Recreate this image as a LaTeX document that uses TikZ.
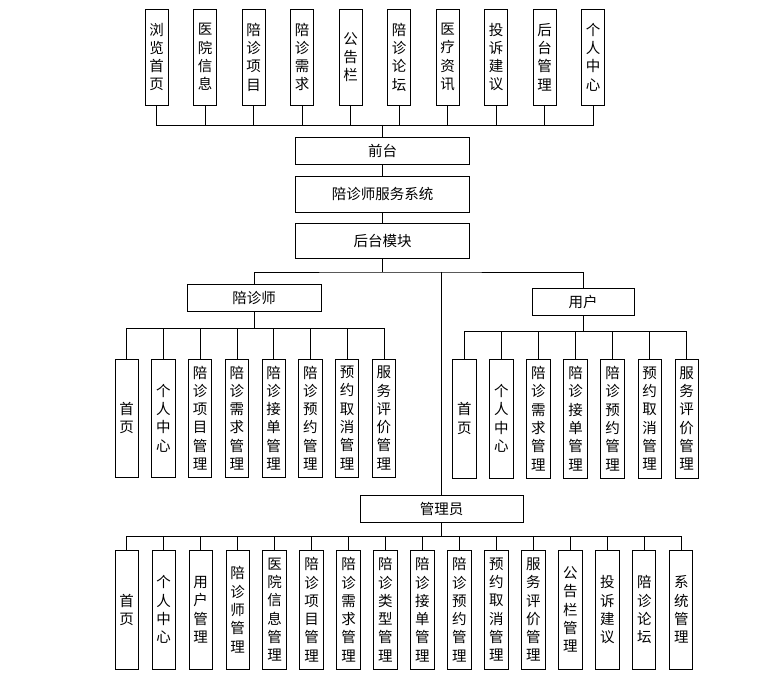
\documentclass[tikz,border=0pt]{standalone}
\usepackage{fontspec}
\setmainfont{Noto Sans CJK SC}
\usetikzlibrary{positioning,calc}
\XeTeXlinebreaklocale "zh"
\XeTeXlinebreakskip=0pt plus 1pt

\tikzset{
  hbox/.style={draw,line width=0.9pt,minimum height=27,inner sep=0pt},
  vbox/.style={draw,line width=0.9pt,minimum width=23.3,inner sep=0pt,
               text width=15,align=center},
  link/.style={line width=0.9pt}
}

\begin{document}
\begin{tikzpicture}[x=1pt,y=-1pt,font=\fontsize{14.5}{18.3}\selectfont]
\useasboundingbox (0,0) rectangle (764,676);
% front end
\node[hbox,minimum width=174] (qian) at (382.5,150.5) {前台};
\node[hbox,minimum width=174,minimum height=36] (sys) at (382.5,194) {陪诊师服务系统};
\node[hbox,minimum width=174,minimum height=35] (hou) at (382.5,241) {后台模块};
\draw[link] (qian) -- (sys);
\draw[link] (sys) -- (hou);
\coordinate (qbar) at (382.5,125);
\foreach \lbl [count=\i] in {浏览首页,医院信息,陪诊项目,陪诊需求,公告栏,
                              陪诊论坛,医疗资讯,投诉建议,后台管理,个人中心} {
  \node[vbox,minimum height=96] (q\i) at ({156.7+48.5*(\i-1)},57) {\lbl};
  \draw[link] (q\i.south) |- (qbar);
}
\draw[link] (qbar) -- (qian);

% back end
\coordinate (hbar) at (382.5,272);
\node[hbox,minimum width=134] (pzs) at (254,297.7) {陪诊师};
\node[hbox,minimum width=102] (yh) at (583.2,301.5) {用户};
\node[hbox,minimum width=163] (gly) at (441.7,508.7) {管理员};
\draw[link] (hou) -- (hbar);
\draw[link] (pzs.north) |- (hbar) -| (yh.north);
\draw[link] (hbar -| gly.north) -- (gly.north);

% escort
\coordinate (pbar) at (254,328.3);
\draw[link] (pzs) -- (pbar);
\foreach \lbl [count=\i] in {首页,个人中心,陪诊项目管理,陪诊需求管理,
                              陪诊接单管理,陪诊预约管理,预约取消管理,服务评价管理} {
  \node[vbox,minimum height=118] (p\i) at ({126.7+36.75*(\i-1)},418) {\lbl};
  \draw[link] (p\i.north) |- (pbar);
}

% user
\coordinate (ybar) at (583.2,331.7);
\draw[link] (yh) -- (ybar);
\foreach \lbl [count=\i] in {首页,个人中心,陪诊需求管理,陪诊接单管理,
                              陪诊预约管理,预约取消管理,服务评价管理} {
  \node[vbox,minimum height=119] (y\i) at ({464.3+37.07*(\i-1)},418.5) {\lbl};
  \draw[link] (y\i.north) |- (ybar);
}

% admin
\coordinate (gbar) at (441.7,536);
\draw[link] (gly) -- (gbar);
\foreach \lbl [count=\i] in {首页,个人中心,用户管理,陪诊师管理,医院信息管理,
                              陪诊项目管理,陪诊需求管理,陪诊类型管理,陪诊接单管理,
                              陪诊预约管理,预约取消管理,服务评价管理,公告栏管理,
                              投诉建议,陪诊论坛,系统管理} {
  \node[vbox,minimum height=119.3] (g\i) at ({126.7+36.97*(\i-1)},609.7) {\lbl};
  \draw[link] (g\i.north) |- (gbar);
}
\end{tikzpicture}
\end{document}
